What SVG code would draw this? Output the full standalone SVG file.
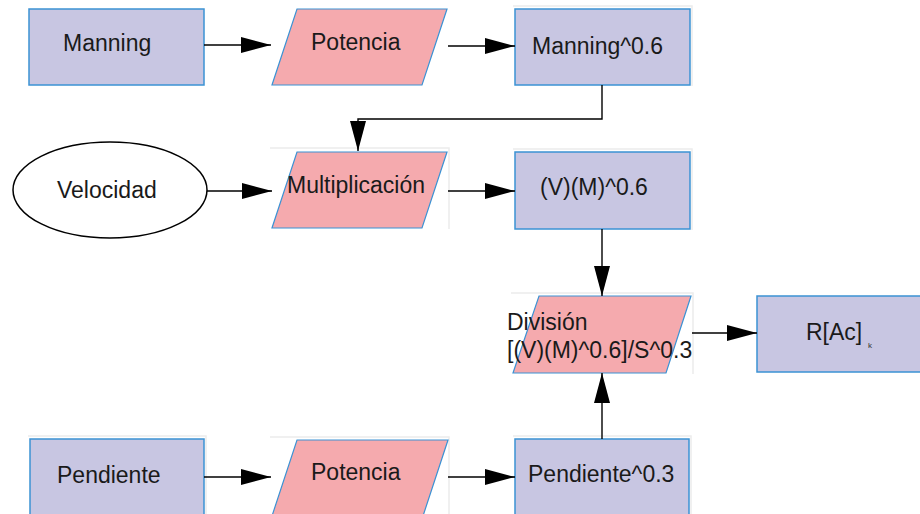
<svg xmlns="http://www.w3.org/2000/svg" width="920" height="514" viewBox="0 0 920 514">
  <defs>
    <marker id="arrow" viewBox="0 0 30 16" refX="30" refY="8" markerWidth="30" markerHeight="16" markerUnits="userSpaceOnUse" orient="auto">
      <path d="M0,0 L30,8 L0,16 z" fill="#000"/>
    </marker>
    <style>
      .proc { fill: #c8c6e2; stroke: #3b92d4; stroke-width: 1.5; }
      .op { fill: #f5aaae; stroke: #3b92d4; stroke-width: 1.2; }
      .frame { fill: none; stroke: #ececec; stroke-width: 1.5; }
      .term { fill: #fff; stroke: #000; stroke-width: 1.5; }
      .lbl { font-family: "Liberation Sans", Arial, sans-serif; font-size: 23px; fill: #1a1a1a; }
      .edge { fill: none; stroke: #000; stroke-width: 1.4; marker-end: url(#arrow); }
    </style>
  </defs>
  <rect width="920" height="514" fill="#fff"/>

  <g id="manning">
    <rect class="proc" x="29" y="9" width="175" height="76"/>
    <text class="lbl" x="63" y="51">Manning</text>
  </g>

  <g id="potencia1">
    <polygon class="op" points="297,9 447,9 422,85 272,85"/>
    <text class="lbl" x="311" y="50">Potencia</text>
  </g>

  <g id="manning06">
    <polyline class="frame" points="513,6 692,6 692,86"/>
    <rect class="proc" x="515" y="9" width="175" height="76"/>
    <text class="lbl" x="532" y="54">Manning^0.6</text>
  </g>

  <g id="velocidad">
    <ellipse class="term" cx="110" cy="190" rx="97" ry="48"/>
    <text class="lbl" x="57" y="198">Velocidad</text>
  </g>

  <g id="multiplicacion">
    <polyline class="frame" points="270,148 449,148 449,229"/>
    <polygon class="op" points="297,152 447,152 422,228 272,228"/>
    <text class="lbl" x="287" y="193">Multiplicación</text>
  </g>

  <g id="vm06">
    <polyline class="frame" points="513,149 692,149 692,230"/>
    <rect class="proc" x="515" y="152" width="175" height="77"/>
    <text class="lbl" x="540" y="195">(V)(M)^0.6</text>
  </g>

  <g id="division">
    <polyline class="frame" points="511,293 693,293 693,374"/>
    <polygon class="op" points="539,296 691,296 666,373 513,373"/>
    <text class="lbl" x="507" y="330">División</text>
    <text class="lbl" x="507" y="358">[(V)(M)^0.6]/S^0.3</text>
  </g>

  <g id="rac">
    <rect class="proc" x="757" y="296" width="170" height="76"/>
    <text class="lbl" x="806" y="340">R[Ac]</text>
    <text x="868" y="348" font-family="Liberation Sans, Arial, sans-serif" font-size="8" fill="#333">k</text>
  </g>

  <g id="pendiente">
    <polyline class="frame" points="28,436 206,436 206,514"/>
    <rect class="proc" x="30" y="439" width="174" height="90"/>
    <text class="lbl" x="57" y="483">Pendiente</text>
  </g>

  <g id="potencia2">
    <polyline class="frame" points="270,437 449,437 449,514"/>
    <polygon class="op" points="297,440 448,440 423,516 272,516"/>
    <text class="lbl" x="311" y="480">Potencia</text>
  </g>

  <g id="pendiente03">
    <polyline class="frame" points="513,436 691,436 691,514"/>
    <rect class="proc" x="515" y="439" width="174" height="90"/>
    <text class="lbl" x="528" y="482">Pendiente^0.3</text>
  </g>

  <g id="connectors">
    <line class="edge" x1="204" y1="45" x2="271" y2="45"/>
    <line class="edge" x1="448" y1="46" x2="515" y2="46"/>
    <polyline class="edge" points="602,85 602,119 358,119 358,151"/>
    <line class="edge" x1="207" y1="191" x2="272" y2="191"/>
    <line class="edge" x1="448" y1="191" x2="515" y2="191"/>
    <line class="edge" x1="602" y1="229" x2="602" y2="296"/>
    <line class="edge" x1="692" y1="333" x2="757" y2="333"/>
    <line class="edge" x1="204" y1="477" x2="271" y2="477"/>
    <line class="edge" x1="448" y1="477" x2="515" y2="477"/>
    <line class="edge" x1="602" y1="439" x2="602" y2="373"/>
  </g>
</svg>
